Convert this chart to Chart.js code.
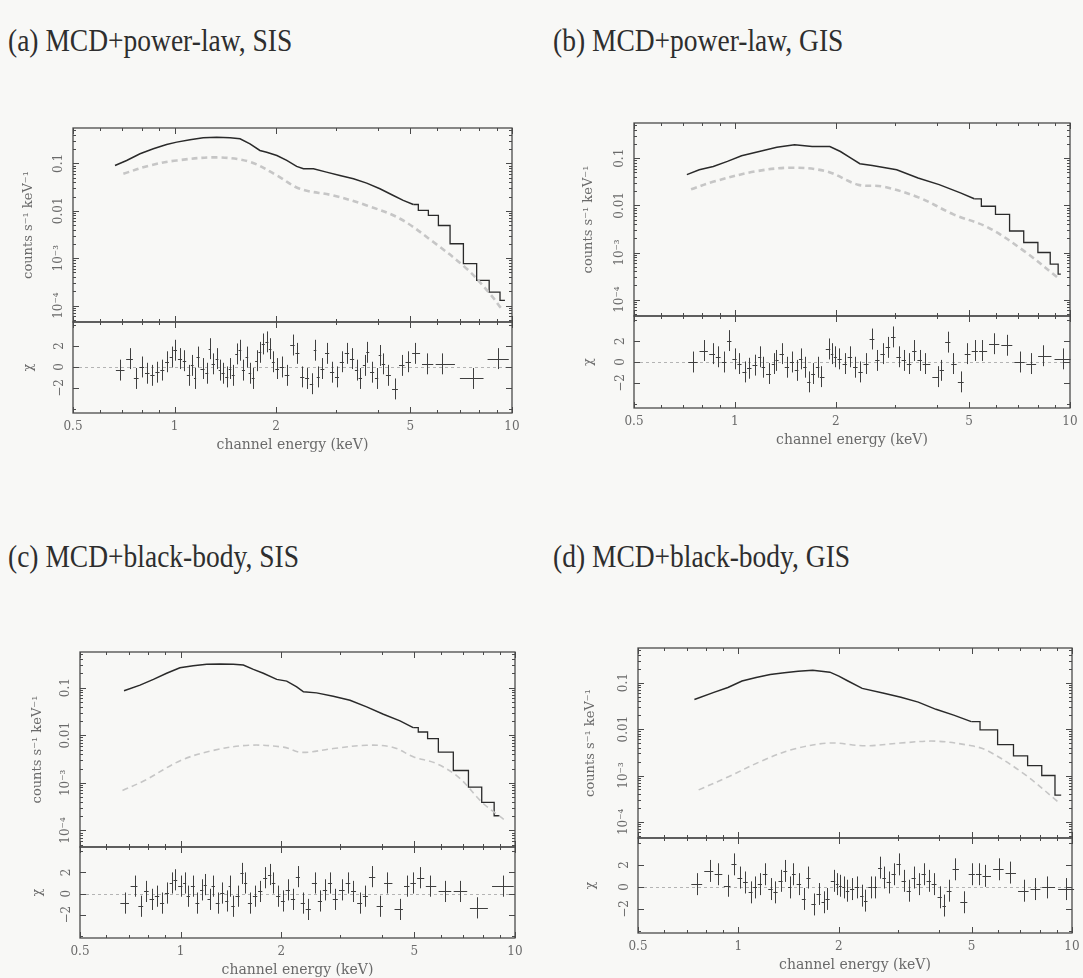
<!DOCTYPE html>
<html>
<head>
<meta charset="utf-8">
<script src="https://cdn.jsdelivr.net/npm/chart.js@4.4.1/dist/chart.umd.min.js"></script>
<style>
  html, body { margin: 0; padding: 0; background: #f8f8f6; }
  body { width: 1083px; height: 978px; position: relative; overflow: hidden; }
  .ptitle { position: absolute; font-family: "Liberation Serif", serif; font-size: 27.5px; line-height: 30px; color: #2e2e2e;
            white-space: nowrap; transform: scaleY(1.12); transform-origin: left top; }
  canvas { position: absolute; }
</style>
</head>
<body>
<script>
// ---- axes ----
const energyTicks = [0.5, 1, 2, 5, 10];
const energyLabels = ['0.5', '1', '2', '5', '10'];
const energyMinor = [0.6, 0.7, 0.8, 0.9, 3, 4, 6, 7, 8, 9];
const fluxTicks = [1e-4, 1e-3, 0.01, 0.1];
const fluxLabels = ['10⁻⁴', '10⁻³', '0.01', '0.1'];
const chiTicks = [-2, 0, 2];
const chiLabels = ['−2', '0', '2'];
const panelTitles = ['(a) MCD+power-law, SIS', '(b) MCD+power-law, GIS', '(c) MCD+black-body, SIS', '(d) MCD+black-body, GIS'];

// ---- (a) MCD+power-law, SIS ----
const specA_E = [0.666,0.721,0.790,0.865,0.947,1.015,1.111,1.216,1.333,1.46,1.563,1.673,1.79,1.875,2.01,2.15,2.30,2.41,2.58,2.82,3.09,3.39,3.71,4.06,4.45,4.76,5.10,5.46,5.85,6.26,6.86,7.51,8.22,8.91,9.53];
const specA_F = [0.0907,0.1156,0.160,0.204,0.252,0.282,0.316,0.348,0.359,0.348,0.332,0.260,0.188,0.173,0.147,0.116,0.0865,0.0773,0.0773,0.0656,0.0558,0.0475,0.0385,0.0292,0.0211,0.0166,0.0136,0.0102,0.0080,0.0049,0.00202,0.000766,0.00034,0.000193,0.000129];
const compA_E = [0.705,0.845,1.015,1.333,1.673,2.01,2.35,2.95,3.71,4.66,5.85,7.34,8.6,9.3];
const compA_F = [0.0605,0.0907,0.1156,0.134,0.108,0.0558,0.0292,0.0211,0.0130,0.0068,0.00219,0.0006,0.000178,0.000086];
const chiA_E = [0.69,0.74,0.77,0.80,0.83,0.86,0.89,0.92,0.95,0.98,1.0,1.04,1.07,1.10,1.13,1.15,1.17,1.21,1.25,1.27,1.30,1.34,1.36,1.39,1.43,1.46,1.49,1.53,1.56,1.60,1.64,1.67,1.71,1.75,1.79,1.83,1.88,1.92,1.96,2.01,2.08,2.15,2.24,2.31,2.39,2.47,2.55,2.61,2.66,2.74,2.83,2.93,3.03,3.13,3.24,3.36,3.47,3.54,3.67,3.72,3.85,3.98,4.06,4.15,4.29,4.50,4.72,4.92,5.16,5.6,6.2,7.66,9.1];
const chiA_V = [-0.3,0.8,-1.1,0,-0.6,-0.8,-0.5,-0.3,0.5,0.95,1.6,0.8,0.6,-0.8,0.15,-1.1,0.95,-0.15,-0.6,1.75,0.3,0.8,-0.3,-0.6,-0.95,-0.15,-0.8,1.25,1.6,-0.3,0.95,-0.6,-1.1,0.6,1.4,2.2,2.4,1.75,0.5,-0.15,0,-0.8,2.1,1.3,-0.95,-1.1,-1.6,1.6,-0.95,-0.15,1.3,-0.5,-0.95,0.5,1.3,0.8,-0.3,-1.1,0.15,1.4,-0.5,-1.1,1.1,0.3,-0.8,-2.1,0.15,0.5,1.3,0.3,0.3,-1.1,0.8];

// ---- (b) MCD+power-law, GIS ----
const specB_E = [0.719,0.783,0.862,0.950,1.047,1.182,1.334,1.507,1.70,1.92,2.065,2.22,2.36,2.57,3.04,3.52,4.07,4.71,5.18,5.71,6.29,6.93,7.64,8.42,9.05,9.39];
const specB_F = [0.0449,0.0572,0.0671,0.0857,0.113,0.139,0.172,0.193,0.177,0.177,0.139,0.101,0.0766,0.0705,0.0572,0.0381,0.0276,0.0184,0.0138,0.0096,0.00643,0.00286,0.00163,0.001,0.000566,0.000348];
const compB_E = [0.74,0.86,1.15,1.48,1.88,2.33,2.76,3.53,4.49,5.7,7.3,9.3];
const compB_F = [0.0219,0.0316,0.0525,0.0631,0.0525,0.0275,0.0251,0.0148,0.00646,0.00339,0.00107,0.000275];
const chiB_E = [0.75,0.81,0.86,0.89,0.93,0.96,1.0,1.03,1.07,1.10,1.15,1.19,1.21,1.26,1.31,1.33,1.38,1.43,1.48,1.53,1.57,1.62,1.66,1.71,1.77,1.81,1.91,1.95,1.99,2.05,2.13,2.20,2.29,2.37,2.46,2.57,2.66,2.76,2.86,2.97,3.08,3.19,3.31,3.43,3.56,3.69,4.03,4.12,4.33,4.49,4.73,4.94,5.2,5.47,5.93,6.47,7.1,7.64,8.33,9.5];
const chiB_V = [0,1.1,0.8,0.5,0,2.05,0.3,-0.15,-0.95,-0.6,-0.3,0.5,-0.5,-1.1,-0.15,0.15,0.8,-0.5,0,-0.8,0.3,-0.5,-1.9,-1.1,-0.5,-1.4,1.25,0.8,0.5,0.3,-0.15,0.5,-0.5,-0.95,-0.15,2.2,0.15,0.8,1.4,2.4,0.5,0.15,-0.15,1.1,0.15,-0.15,-1.4,-0.8,1.9,-0.15,-1.9,0.8,1.1,1.1,1.75,1.6,0,-0.15,0.6,0.3];

// ---- (c) MCD+black-body, SIS ----
const specC_E = [0.677,0.756,0.829,0.908,0.995,1.09,1.197,1.31,1.437,1.54,1.65,1.767,1.938,2.076,2.224,2.33,2.55,2.86,3.21,3.60,4.04,4.53,4.96,5.32,5.64,6.17,6.93,7.6,8.32,9.02];
const specC_F = [0.0857,0.113,0.149,0.2,0.262,0.288,0.308,0.313,0.308,0.299,0.242,0.2,0.149,0.137,0.104,0.0815,0.0776,0.066,0.0544,0.0394,0.0276,0.020,0.0145,0.0117,0.00847,0.00443,0.00182,0.00081,0.00039,0.000204];
const compC_E = [0.67,0.78,1.0,1.25,1.6,2.03,2.3,2.86,3.6,4.3,5.0,5.8,6.8,8.0,9.4];
const compC_F = [0.00069,0.00112,0.00295,0.00479,0.00617,0.00562,0.00437,0.00525,0.00617,0.00562,0.00347,0.00257,0.00129,0.00038,0.000158];
const chiC_E = [0.68,0.73,0.76,0.79,0.82,0.85,0.88,0.91,0.94,0.96,1.0,1.03,1.05,1.09,1.12,1.16,1.18,1.22,1.25,1.29,1.33,1.38,1.40,1.43,1.48,1.53,1.56,1.61,1.67,1.73,1.79,1.85,1.89,1.96,2.02,2.09,2.17,2.24,2.32,2.40,2.52,2.61,2.70,2.80,2.89,3.04,3.17,3.28,3.44,3.56,3.73,3.95,4.14,4.53,4.75,4.95,5.2,5.57,6.17,6.85,7.7,9.2];
const chiC_V = [-0.9,0.7,-1.2,0.2,-0.55,-0.25,-0.9,0.05,1.0,1.3,0.7,1.0,-0.25,0.7,-0.9,0.35,0.85,-0.55,0.7,-0.9,0.05,-0.7,0.7,-1.2,-0.25,1.9,1.0,-0.9,-0.25,0.2,1.5,1.8,1.0,-0.25,-0.7,0.35,-0.55,1.6,-0.9,-1.5,1.0,-0.7,0.35,1.0,-0.55,0.35,1.0,0.2,-0.9,-0.25,1.6,-1.2,1.0,-1.5,0.7,1.0,1.5,0.7,0.2,0.2,-1.35,0.7];

// ---- (d) MCD+black-body, GIS ----
const specD_E = [0.738,0.844,0.93,1.025,1.13,1.245,1.373,1.51,1.67,1.88,2.0,2.13,2.35,2.71,3.07,3.46,3.91,4.42,4.99,5.63,6.36,7.01,7.73,8.52,9.28];
const specD_F = [0.0435,0.062,0.079,0.109,0.129,0.151,0.164,0.177,0.186,0.169,0.139,0.109,0.0754,0.060,0.0487,0.0382,0.0267,0.020,0.0145,0.0096,0.00465,0.00264,0.00163,0.001,0.000379];
const compD_E = [0.76,0.93,1.18,1.45,1.87,2.4,3.06,3.9,5.0,5.6,7.2,9.2];
const compD_F = [0.00049,0.00093,0.00209,0.00363,0.00501,0.00437,0.00501,0.0055,0.00437,0.00339,0.00107,0.00025];
const chiD_E = [0.75,0.82,0.87,0.93,0.97,1.01,1.05,1.09,1.12,1.16,1.20,1.25,1.29,1.34,1.38,1.43,1.46,1.52,1.57,1.62,1.68,1.74,1.80,1.84,1.93,1.98,2.02,2.07,2.12,2.19,2.27,2.35,2.40,2.49,2.57,2.66,2.73,2.82,2.92,3.02,3.13,3.24,3.35,3.47,3.59,3.72,3.85,4.03,4.13,4.27,4.47,4.74,5.02,5.25,5.5,6.03,6.54,7.16,7.77,8.42,9.6];
const chiD_V = [0.25,1.45,1.15,0.1,2.05,0.85,0.4,-0.5,-0.05,0.25,1.15,-0.2,-0.5,0.55,1.45,-0.05,1.15,0.25,-1.1,0.85,-1.6,-0.65,-1.4,-1.1,0.55,0.25,0.1,-0.05,-0.35,-0.2,-0.05,-0.8,-1.25,-0.05,-0.05,1.75,0.85,0.4,1.15,2.05,0.55,-0.35,0.85,0.25,1.15,0.55,0.25,-0.95,-1.7,-0.35,1.6,-1.4,1.15,1.15,1.0,1.6,1.3,-0.35,-0.2,-0.05,-0.2];

// ---- page layout (pixels) ----
const AXW = 70, PAD = 3, RPAD = 18, XAXH = 46;
const FMIN = 4.5e-5, FMAX = 0.56;
const STEP_FROM = 5.2; // above this energy the binned spectrum is drawn as steps
const panels = [
  { title: panelTitles[0], tx: 8, ty: 24, left: 73, right: 512, top: 128, mid: 322, bottom: 413, chiMin: -4.4, chiMax: 4.3, titlePad: 18, compW: 2.6,
    spec: [specA_E, specA_F], comp: [compA_E, compA_F], chi: [chiA_E, chiA_V] },
  { title: panelTitles[1], tx: 553, ty: 24, left: 634, right: 1070, top: 123, mid: 316, bottom: 408, chiMin: -4.4, chiMax: 4.4, titlePad: 17, compW: 2.6,
    spec: [specB_E, specB_F], comp: [compB_E, compB_F], chi: [chiB_E, chiB_V] },
  { title: panelTitles[2], tx: 8, ty: 540, left: 80, right: 515, top: 652, mid: 847, bottom: 938, chiMin: -4.2, chiMax: 4.4, titlePad: 20, compW: 1.6,
    spec: [specC_E, specC_F], comp: [compC_E, compC_F], chi: [chiC_E, chiC_V] },
  { title: panelTitles[3], tx: 553, ty: 540, left: 638, right: 1072, top: 648, mid: 838, bottom: 933, chiMin: -4.2, chiMax: 4.45, titlePad: 15, compW: 1.6,
    spec: [specD_E, specD_F], comp: [compD_E, compD_F], chi: [chiD_E, chiD_V] }
];

const fluxMinor = [];
for (let e = -5; e <= -1; e++) for (let m = 2; m <= 9; m++) {
  const v = m * Math.pow(10, e);
  if (v > FMIN && v < FMAX) fluxMinor.push(v);
}

const textColor = '#6a6a6a';
const tickFont = { family: 'DejaVu Serif', size: 12 };
const titleFont = { family: 'DejaVu Serif', size: 13 };

const pts = (xs, ys) => xs.map((v, i) => ({ x: v, y: ys[i] }));

// horizontal arm of each residual cross (a fraction of the bin)
function binArms(xs) {
  const lo = [], hi = [];
  xs.forEach((v, i) => {
    const prev = i > 0 ? xs[i - 1] : v * v / xs[i + 1];
    const next = i < xs.length - 1 ? xs[i + 1] : v * v / xs[i - 1];
    lo.push(v * Math.pow(prev / v, 0.42));
    hi.push(v * Math.pow(next / v, 0.42));
  });
  return { lo, hi };
}

const framePlugin = {
  id: 'frame',
  beforeDatasetsDraw(chart, args, opts) {
    if (!opts.zero) return;
    const { ctx, chartArea: a, scales: { y } } = chart;
    const py = Math.round(y.getPixelForValue(0)) + 0.5;
    ctx.save();
    ctx.strokeStyle = '#b4b4b4';
    ctx.setLineDash([3, 3]);
    ctx.beginPath(); ctx.moveTo(a.left, py); ctx.lineTo(a.right, py); ctx.stroke();
    ctx.restore();
  },
  afterDatasetsDraw(chart, args, opts) {
    const { ctx, chartArea: a, scales: { x, y } } = chart;
    ctx.save();
    ctx.strokeStyle = '#4a4a4a';
    ctx.lineWidth = 1.3;
    ctx.strokeRect(a.left, a.top, a.width, a.height);
    ctx.lineWidth = 1;
    ctx.beginPath();
    const xt = (vals, len) => vals.forEach(v => {
      const px = Math.round(x.getPixelForValue(v)) + 0.5;
      ctx.moveTo(px, a.bottom); ctx.lineTo(px, a.bottom - len);
      ctx.moveTo(px, a.top); ctx.lineTo(px, a.top + len);
    });
    const yt = (vals, len) => vals.forEach(v => {
      const py = Math.round(y.getPixelForValue(v)) + 0.5;
      ctx.moveTo(a.left, py); ctx.lineTo(a.left + len, py);
      ctx.moveTo(a.right, py); ctx.lineTo(a.right - len, py);
    });
    xt(energyTicks, 6); xt(energyMinor, 3);
    yt(opts.yMajor || [], 6); yt(opts.yMinor || [], 3);
    ctx.stroke();
    ctx.restore();
  }
};

const crossPlugin = {
  id: 'crosses',
  afterDatasetsDraw(chart) {
    const { ctx, scales: { x, y } } = chart;
    chart.data.datasets.forEach(ds => {
      if (!ds.arms) return;
      ctx.save();
      ctx.strokeStyle = ds.borderColor;
      ctx.lineWidth = 1;
      ctx.beginPath();
      ds.data.forEach((p, i) => {
        const px = Math.round(x.getPixelForValue(p.x)) + 0.5;
        const py = Math.round(y.getPixelForValue(p.y)) + 0.5;
        ctx.moveTo(px, y.getPixelForValue(p.y - 1)); ctx.lineTo(px, y.getPixelForValue(p.y + 1));
        ctx.moveTo(x.getPixelForValue(ds.arms.lo[i]), py); ctx.lineTo(x.getPixelForValue(ds.arms.hi[i]), py);
      });
      ctx.stroke();
      ctx.restore();
    });
  }
};

function makeCanvas(left, top, w, h) {
  const c = document.createElement('canvas');
  c.width = w; c.height = h;
  c.style.left = left + 'px'; c.style.top = top + 'px';
  c.style.width = w + 'px'; c.style.height = h + 'px';
  document.body.appendChild(c);
  return c;
}

function yAxis(min, max, type, ticks, labels, pad, title, titlePad) {
  return {
    type, min, max, bounds: 'data',
    afterBuildTicks: s => { s.ticks = ticks.map(v => ({ value: v })); },
    afterFit: s => { s.width = AXW; s.paddingTop = 0; s.paddingBottom = 0; },
    grid: { display: false, drawTicks: false },
    border: { display: false },
    ticks: { minRotation: 90, maxRotation: 90, crossAlign: 'center', padding: pad, autoSkip: false,
             color: textColor, font: tickFont, callback: (v, i) => labels[i] },
    title: { display: true, text: title, color: textColor, font: titleFont, padding: { top: titlePad, bottom: 0 } }
  };
}

panels.forEach(p => {
  const t = document.createElement('div');
  t.className = 'ptitle';
  t.textContent = p.title;
  t.style.left = p.tx + 'px'; t.style.top = p.ty + 'px';
  document.body.appendChild(t);

  const plotW = p.right - p.left;
  const spec = pts(p.spec[0], p.spec[1]);
  const k = spec.findIndex(q => q.x > STEP_FROM);

  // spectrum
  const up = makeCanvas(p.left - AXW, p.top - PAD, AXW + plotW + RPAD, p.mid - p.top + 2 * PAD);
  new Chart(up, {
    type: 'line',
    data: { datasets: [
      { data: pts(p.comp[0], p.comp[1]), borderColor: '#c6c6c6', borderWidth: p.compW, borderDash: [6, 4], tension: 0.35, pointRadius: 0 },
      { data: spec.slice(0, k), borderColor: '#2a2a2a', borderWidth: 1.5, pointRadius: 0 },
      { data: spec.slice(k - 1), borderColor: '#2a2a2a', borderWidth: 1.3, stepped: 'middle', pointRadius: 0 }
    ] },
    options: {
      responsive: false, animation: false, devicePixelRatio: 1,
      layout: { padding: { top: PAD, bottom: PAD, left: 0, right: RPAD } },
      plugins: { legend: { display: false }, tooltip: { enabled: false }, frame: { yMajor: fluxTicks, yMinor: fluxMinor } },
      scales: {
        x: { type: 'logarithmic', min: 0.5, max: 10, bounds: 'data', display: false },
        y: yAxis(FMIN, FMAX, 'logarithmic', fluxTicks, fluxLabels, 1, 'counts s⁻¹ keV⁻¹', p.titlePad)
      }
    },
    plugins: [framePlugin]
  });

  // residuals
  const lo = makeCanvas(p.left - AXW, p.mid - PAD, AXW + plotW + RPAD, p.bottom - p.mid + PAD + XAXH);
  new Chart(lo, {
    type: 'line',
    data: { datasets: [
      { data: pts(p.chi[0], p.chi[1]), borderColor: '#3f3f3f', showLine: false, pointRadius: 0, arms: binArms(p.chi[0]) }
    ] },
    options: {
      responsive: false, animation: false, devicePixelRatio: 1,
      layout: { padding: { top: PAD, bottom: 0, left: 0, right: RPAD } },
      plugins: { legend: { display: false }, tooltip: { enabled: false }, frame: { zero: true, yMajor: chiTicks, yMinor: [-4, 4] } },
      scales: {
        x: {
          type: 'logarithmic', min: 0.5, max: 10, bounds: 'data',
          afterBuildTicks: s => { s.ticks = energyTicks.map(v => ({ value: v })); },
          afterFit: s => { s.height = XAXH; s.paddingLeft = 0; s.paddingRight = 0; },
          grid: { display: false, drawTicks: false },
          border: { display: false },
          ticks: { padding: 7, autoSkip: false, maxRotation: 0, color: textColor, font: tickFont, callback: (v, i) => energyLabels[i] },
          title: { display: true, text: 'channel energy (keV)', color: textColor, font: { family: 'DejaVu Serif', size: 14 }, padding: { top: 0, bottom: 5.6 } }
        },
        y: yAxis(p.chiMin, p.chiMax, 'linear', chiTicks, chiLabels, 4, 'χ', p.titlePad)
      }
    },
    plugins: [framePlugin, crossPlugin]
  });
});
</script>
</body>
</html>
